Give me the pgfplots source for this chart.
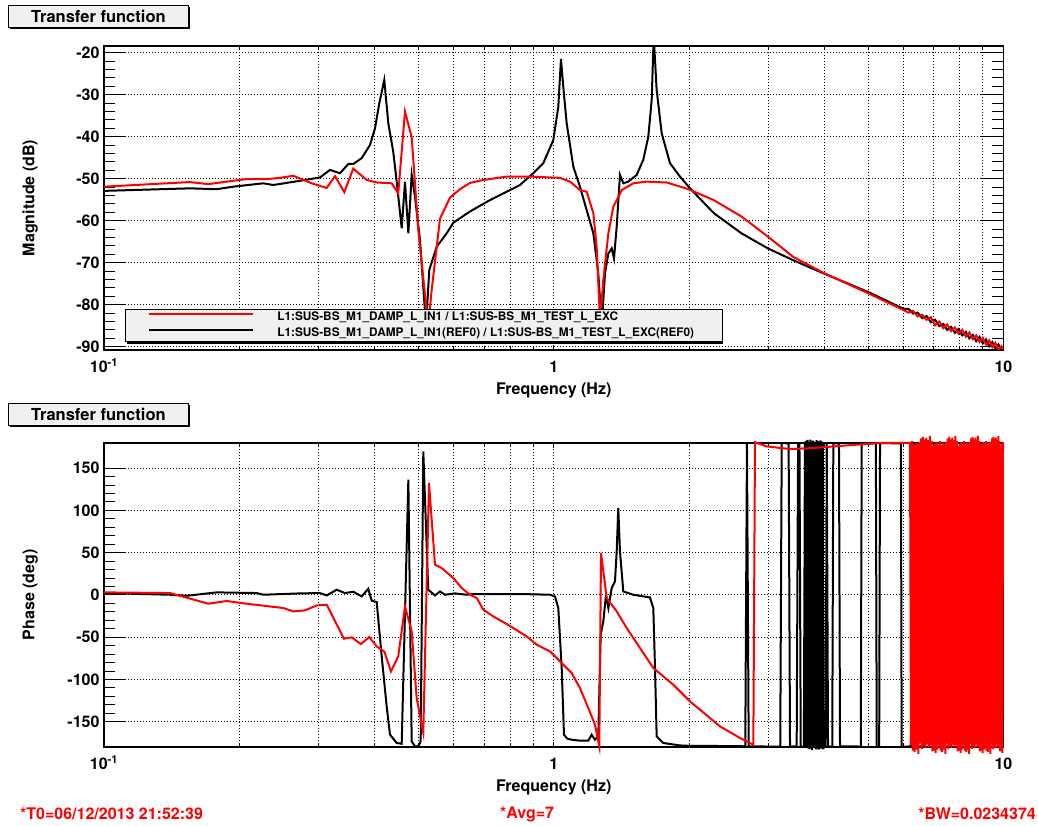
\documentclass[border=0pt]{standalone}
\usepackage{fontspec}
\setmainfont{TeX Gyre Heros}
\usepackage{pgfplots}
\pgfplotsset{compat=1.18}
\definecolor{boxgray}{gray}{0.94}
\pgfplotsset{legend image code/.code={\draw[#1] (0pt,3.6pt) -- (104pt,3.6pt);}}
\begin{document}
\begin{tikzpicture}
\path[use as bounding box] (0,0) rectangle (1038pt,825pt);
% ---------------- Magnitude ----------------
\begin{axis}[at={(104pt,475pt)}, anchor=south west,
  scale only axis, width=899.4pt, height=304pt,
  xmode=log, xmin=0.1, xmax=10,
  xtick={0.1,1,10}, xticklabels={10\textsuperscript{-1},1,10},
  minor xtick={0.2,0.3,0.4,0.5,0.6,0.7,0.8,0.9,2,3,4,5,6,7,8,9},
  xmajorgrids, xminorgrids, ymajorgrids,
  major grid style={black, line width=0.9pt, dash pattern=on 0.9pt off 2.1pt},
  minor grid style={black, line width=0.9pt, dash pattern=on 0.9pt off 2.1pt},
  axis line style={line width=1.6pt},
  tick style={black, line width=0.9pt},
  major tick length=22pt, minor tick length=11pt,
  xtick style={/pgfplots/major tick length=5pt, /pgfplots/minor tick length=4pt},
  tick label style={font=\fontsize{16}{19}\selectfont\bfseries},
  label style={font=\fontsize{16}{19}\selectfont\bfseries},
  xticklabel style={anchor=base, yshift=-22.7pt},
  yticklabel style={anchor=east, xshift=-1pt},
  xlabel={Frequency (Hz)},
  xlabel style={at={(axis description cs:0.5,-0.146)}, anchor=base},
  ylabel style={at={(axis description cs:-0.0773,0.5)}, rotate=0, anchor=base},
  minor y tick num=4,
  ymin=-90.79, ymax=-18.40,
  ytick={-90,-80,-70,-60,-50,-40,-30,-20},
  yticklabels={-90,-80,-70,-60,-50,-40,-30,-20},
  ylabel={Magnitude (dB)},
  legend cell align=left,
  legend style={at={(0.0233,0.0263)}, anchor=south west, draw=black, line width=0.8pt,
    fill=boxgray, inner xsep=23pt, inner ysep=3pt, column sep=23pt, row sep=4.6pt,
    font=\fontsize{11.8}{14}\selectfont\bfseries,
    nodes={inner sep=0pt, text height=9pt, text depth=2pt}},
]
\addlegendimage{red, line width=2pt}
\addlegendentry{\makebox[422pt][l]{L1:SUS-BS\_M1\_DAMP\_L\_IN1 / L1:SUS-BS\_M1\_TEST\_L\_EXC}}
\addlegendimage{black, line width=2pt}
\addlegendentry{\makebox[422pt][l]{L1:SUS-BS\_M1\_DAMP\_L\_IN1(REF0) / L1:SUS-BS\_M1\_TEST\_L\_EXC(REF0)}}
\addplot[black, line width=2pt, forget plot] coordinates {
(0.1,-52.9) (0.1553,-52.3) (0.1781,-52.5) (0.1938,-51.9) (0.2261,-51.1) (0.2379,-51.5)
(0.2728,-50.5) (0.3022,-49.7) (0.3181,-47.9) (0.3348,-48.7) (0.3494,-46.5) (0.3584,-46.5)
(0.3742,-45.1) (0.3904,-42.0) (0.4005,-38.0) (0.4095,-32.0) (0.4200,-26.5) (0.4288,-36.8)
(0.4398,-43.6) (0.4489,-51.9) (0.4592,-61.8) (0.4670,-50.7) (0.4751,-63.0) (0.4833,-49.1)
(0.4916,-54.3) (0.5043,-64.6) (0.5200,-85) (0.5289,-71.7) (0.5493,-66.2) (0.5782,-63.0)
(0.598,-60.5) (0.6515,-57.8) (0.7216,-55.1) (0.7861,-53.1) (0.8416,-51.5) (0.9007,-48.7)
(0.9482,-46.3) (0.998,-40.8) (1.0238,-32.9) (1.0380,-21.5) (1.0503,-28.1) (1.0687,-36.8)
(1.1055,-47.1) (1.144,-51.9) (1.184,-57.5) (1.225,-63.0) (1.2565,-72.5) (1.2785,-85)
(1.3005,-72.5) (1.323,-67.8) (1.3459,-66.6) (1.3617,-69.0) (1.3807,-61.4) (1.4041,-49.1)
(1.4282,-51.1) (1.4652,-50.7) (1.5296,-49.1) (1.5820,-45.5) (1.6233,-40.0) (1.6516,-31.3)
(1.6688,-16) (1.6943,-28.9) (1.7385,-39.2) (1.8138,-46.3) (1.9093,-49.5) (2.0097,-52.3)
(2.270,-58.2) (2.615,-63.0) (2.995,-66.6) (3.407,-69.4) (3.993,-72.6) (5.009,-77.0)
(6.0,-81.0) (6.15,-81.0) (6.3,-82.1) (6.45,-81.9) (6.6,-83.2) (6.75,-82.7) (6.9,-84.2)
(7.05,-83.6) (7.2,-85.1) (7.35,-84.6) (7.5,-86.0) (7.65,-85.3) (7.8,-86.7) (7.95,-85.8)
(8.1,-87.3) (8.25,-86.5) (8.4,-88.0) (8.55,-87.2) (8.7,-88.7) (8.85,-87.7) (9.0,-89.2)
(9.15,-88.3) (9.3,-89.9) (9.45,-88.9) (9.6,-90.4) (9.75,-89.5) (9.9,-90.9) (10.0,-90.3)
};
\addplot[red, line width=2pt, forget plot] coordinates {
(0.1,-51.9) (0.1553,-50.8) (0.1706,-51.3) (0.1936,-50.5) (0.2076,-50.1) (0.2300,-50.1)
(0.2463,-49.8) (0.2636,-49.3) (0.2897,-51.1) (0.3128,-52.2) (0.3264,-49.4) (0.3423,-53.2)
(0.3584,-47.6) (0.3839,-50.3) (0.4040,-50.9) (0.4363,-51.1) (0.4512,-53.5) (0.4670,-34.0)
(0.4833,-40.1) (0.4999,-62.2) (0.5261,-85) (0.5354,-76.5) (0.5587,-59.5) (0.5881,-54.5)
(0.6188,-52.5) (0.6515,-51.0) (0.6974,-50.3) (0.7861,-49.5) (0.8856,-49.5) (0.9813,-49.7)
(1.0328,-49.8) (1.087,-50.7) (1.144,-52.7) (1.184,-53.1) (1.225,-58.2) (1.246,-66.2)
(1.268,-84) (1.289,-74.1) (1.323,-63.0) (1.357,-56.7) (1.417,-52.7) (1.503,-51.1)
(1.610,-50.7) (1.784,-50.9) (1.995,-52.5) (2.270,-55.1) (2.615,-59.0) (2.995,-63.8)
(3.407,-68.6) (3.993,-72.5) (5.009,-77.3) (6.0,-81.3) (6.15,-81.9) (6.3,-81.5) (6.45,-82.8)
(6.6,-82.4) (6.75,-83.6) (6.9,-83.0) (7.05,-84.9) (7.2,-84.0) (7.35,-85.6) (7.5,-84.7)
(7.65,-86.3) (7.8,-85.4) (7.95,-86.9) (8.1,-86.0) (8.25,-87.6) (8.4,-86.6) (8.55,-88.2)
(8.7,-87.3) (8.85,-88.9) (9.0,-87.9) (9.15,-89.5) (9.3,-88.5) (9.45,-90.2) (9.6,-89.1)
(9.75,-90.7) (9.9,-89.9) (10.0,-90.8)
};
\fill[black] (axis description cs:0.0261,0.0181) rectangle (axis description cs:0.6877,0.1266);
\end{axis}
% ---------------- Phase ----------------
\begin{axis}[at={(104pt,78.3pt)}, anchor=south west,
  scale only axis, width=899.4pt, height=304pt,
  xmode=log, xmin=0.1, xmax=10,
  xtick={0.1,1,10}, xticklabels={10\textsuperscript{-1},1,10},
  minor xtick={0.2,0.3,0.4,0.5,0.6,0.7,0.8,0.9,2,3,4,5,6,7,8,9},
  xmajorgrids, xminorgrids, ymajorgrids,
  major grid style={black, line width=0.9pt, dash pattern=on 0.9pt off 2.1pt},
  minor grid style={black, line width=0.9pt, dash pattern=on 0.9pt off 2.1pt},
  axis line style={line width=1.6pt},
  tick style={black, line width=0.9pt},
  major tick length=22pt, minor tick length=11pt,
  xtick style={/pgfplots/major tick length=5pt, /pgfplots/minor tick length=4pt},
  tick label style={font=\fontsize{16}{19}\selectfont\bfseries},
  label style={font=\fontsize{16}{19}\selectfont\bfseries},
  xticklabel style={anchor=base, yshift=-22.7pt},
  yticklabel style={anchor=east, xshift=-1pt},
  xlabel={Frequency (Hz)},
  xlabel style={at={(axis description cs:0.5,-0.147)}, anchor=base},
  ylabel style={at={(axis description cs:-0.0773,0.5)}, rotate=0, anchor=base},
  minor y tick num=4,
  ymin=-179.5, ymax=180, clip=false,
  ytick={-150,-100,-50,0,50,100,150},
  yticklabels={-150,-100,-50,0,50,100,150},
  ylabel={Phase (deg)},
]
\addplot[black, line width=2pt] coordinates {
(0.1,2.2) (0.1403,0.2) (0.1527,-1.0) (0.1781,3.0) (0.2186,2.2) (0.2261,0.2) (0.2728,1.8)
(0.3022,2.2) (0.3128,-0.6) (0.3292,6.1) (0.3436,2.2) (0.3584,3.8) (0.3742,-1.8) (0.3870,7.3)
(0.3939,-6.9) (0.4040,-8.4) (0.4145,-72.7) (0.4252,-131.8) (0.4325,-165.3) (0.4476,-175.1)
(0.4592,-176) (0.4751,136.2) (0.4833,-173.2) (0.4916,-179.1) (0.4999,-179.1) (0.5061,-173.2)
(0.5129,169.7) (0.5261,6.1) (0.5446,-0.6) (0.5587,4.1) (0.5732,0.2) (0.6031,1.8) (0.6406,0.2)
(0.6627,1.0) (0.8559,1.0) (0.9813,0.2) (1.0067,-1.8) (1.0238,-15.5) (1.0418,-86.4)
(1.0541,-165.3) (1.0720,-170) (1.0965,-171.2) (1.144,-172.4) (1.1936,-172.4) (1.2146,-165.3)
(1.2354,-171.2) (1.2565,-167.3) (1.2720,-47.1) (1.2892,-31.3) (1.3071,0.2) (1.323,-15.5)
(1.3459,8.2) (1.3686,16.0) (1.3807,51.4) (1.3918,102.8) (1.4041,51.4) (1.4282,4.1)
(1.503,0.2) (1.6371,-3.0) (1.6654,-15.5) (1.6800,-86.4) (1.6943,-167.3) (1.7525,-175.1)
(1.9093,-178) (2.0097,-178.5) (2.60,-178.8) (2.667,-179.2) (2.690,179.0) (2.714,-179.0)
(3.19,-179.5) (3.214,179.5) (3.33,179.2) (3.354,-179.4) (3.47,-179.0) (3.495,179.3)
(3.52,179.0) (3.543,-179.2) (3.60,-179.5)
(3.620,181.4) (3.6325,-181.3) (3.645,182.6) (3.6575,-180.1) (3.670,183.2) (3.6825,-181.5)
(3.695,180.0) (3.7075,-182.4) (3.720,183.5) (3.7325,-180.2) (3.745,181.1) (3.7575,-183.6)
(3.770,182.4) (3.7825,-180.0) (3.795,181.3) (3.8075,-181.2) (3.820,180.5) (3.8325,-182.7)
(3.845,183.1) (3.8575,-180.6) (3.870,181.9) (3.8825,-183.0) (3.895,180.4) (3.9075,-181.8)
(3.920,182.7) (3.9325,-180.3) (3.945,181.6) (3.9575,-182.1) (3.970,180.2) (3.9825,-181.0)
(4.024,-179.4) (4.047,179.1) (4.074,-179.3) (4.163,-179.5) (4.186,179.4)
(4.309,179.2) (4.332,-179.0) (4.818,-179.3) (4.841,179.2) (5.205,179.4) (5.228,-179.1)
(5.294,-179.3) (5.317,179.5) (5.917,179.2) (5.940,-179.4) (6.23,-179.2) (6.25,179.3)
(6.35,179.0) (6.37,-179.4) (6.68,-179.1) (6.70,179.2) (7.08,179.4) (7.10,-179.3)
(7.58,-179.1) (7.60,179.5) (8.88,179.2) (8.90,-179.2) (9.48,-179.3) (9.50,179.3) (10,179.0)
};
\addplot[red, line width=2pt] coordinates {
(0.1,3.0) (0.1403,2.2) (0.1706,-10.4) (0.1874,-7.2) (0.2076,-10.4) (0.2504,-15.5)
(0.2636,-19.5) (0.2799,-18.3) (0.2972,-12.4) (0.3128,-11.6) (0.3417,-51.8) (0.3554,-50.2)
(0.3728,-58.1) (0.3890,-49.8) (0.4040,-60.9) (0.4200,-66.8) (0.4347,-90.4) (0.4512,-72.7)
(0.4670,-13.6) (0.4833,-43.2) (0.4958,-121.9) (0.5129,-163) (0.5281,132.3) (0.5446,35.7)
(0.5635,31.8) (0.5980,20.0) (0.6244,8.2) (0.6515,0.2) (0.6744,-3.7) (0.6974,-17.5)
(0.7339,-25.4) (0.7861,-34.4) (0.8710,-49.1) (0.9167,-58.9) (0.9813,-66.8) (1.0328,-78.6)
(1.0965,-92.4) (1.144,-110.1) (1.1936,-133.7) (1.2354,-153.5) (1.2630,-179.1) (1.2741,49.5)
(1.3119,-3.7) (1.3807,-19.5) (1.4531,-39.1) (1.5556,-62.8) (1.6654,-86.4) (1.8450,-106.2)
(2.0097,-125.9) (2.1150,-135.7) (2.3432,-155.5) (2.5963,-169.2) (2.7794,-177.1)
(2.803,180.5) (2.9759,175.6) (3.354,172.5) (3.778,173.7) (4.483,176.8) (5.317,179.6)
(6.199,179.8)
(6.23,-178) (6.26,182) (6.29,-184) (6.32,177) (6.35,-186) (6.38,180) (6.41,-183) (6.44,179)
(6.47,-188) (6.50,181) (6.53,-176) (6.56,185) (6.59,-182) (6.62,187) (6.65,-179) (6.68,184)
(6.71,-181) (6.74,186) (6.77,-177) (6.80,183) (6.83,-180) (6.86,188) (6.89,-178) (6.92,182)
(6.95,-185) (6.98,176) (7.01,-184) (7.04,179) (7.07,-187) (7.10,181) (7.13,-183) (7.16,178)
(7.19,-178) (7.22,182) (7.25,-184) (7.28,177) (7.31,-186) (7.34,180) (7.37,-183) (7.40,179)
(7.43,-188) (7.46,181) (7.49,-176) (7.52,185) (7.55,-182) (7.58,187) (7.61,-179) (7.64,184)
(7.67,-181) (7.70,186) (7.73,-177) (7.76,183) (7.79,-180) (7.82,188) (7.85,-178) (7.88,182)
(7.91,-185) (7.94,176) (7.97,-184) (8.00,179) (8.03,-187) (8.06,181) (8.09,-183) (8.12,178)
(8.15,-178) (8.18,182) (8.21,-184) (8.24,177) (8.27,-186) (8.30,180) (8.33,-183) (8.36,179)
(8.39,-188) (8.42,181) (8.45,-176) (8.48,185) (8.51,-182) (8.54,187) (8.57,-179) (8.60,184)
(8.63,-181) (8.66,186) (8.69,-177) (8.72,183) (8.75,-180) (8.78,188) (8.81,-178) (8.84,182)
(8.87,-185) (8.90,176) (8.93,-184) (8.96,179) (8.99,-187) (9.02,181) (9.05,-183) (9.08,178)
(9.11,-178) (9.14,182) (9.17,-184) (9.20,177) (9.23,-186) (9.26,180) (9.29,-183) (9.32,179)
(9.35,-188) (9.38,181) (9.41,-176) (9.44,185) (9.47,-182) (9.50,187) (9.53,-179) (9.56,184)
(9.59,-181) (9.62,186) (9.65,-177) (9.68,183) (9.71,-180) (9.74,188) (9.77,-178) (9.80,182)
(9.83,-185) (9.86,176) (9.89,-184) (9.92,179) (9.95,-187) (9.98,181)
};
\end{axis}
% ---------------- titles and footers ----------------
\fill[black] (10pt,818pt) rectangle (190pt,795.5pt);
\node[draw=black, line width=0.8pt, fill=boxgray, minimum width=180pt, minimum height=22.5pt,
  inner sep=0pt, anchor=north west, font=\fontsize{16.5}{19}\selectfont\bfseries]
  at (8pt,820pt) {Transfer function};
\fill[black] (10pt,420.3pt) rectangle (190pt,398pt);
\node[draw=black, line width=0.8pt, fill=boxgray, minimum width=180pt, minimum height=22.3pt,
  inner sep=0pt, anchor=north west, font=\fontsize{16.5}{19}\selectfont\bfseries]
  at (8pt,422.3pt) {Transfer function};
\node[anchor=west, inner sep=0pt, text=red, font=\fontsize{16}{19}\selectfont\bfseries]
  at (20pt,11pt) {*T0=06/12/2013 21:52:39};
\node[anchor=west, inner sep=0pt, text=red, font=\fontsize{16}{19}\selectfont\bfseries]
  at (500pt,11pt) {*Avg=7};
\node[anchor=east, inner sep=0pt, text=red, font=\fontsize{16}{19}\selectfont\bfseries]
  at (1036pt,11pt) {*BW=0.0234374};
\end{tikzpicture}
\end{document}
